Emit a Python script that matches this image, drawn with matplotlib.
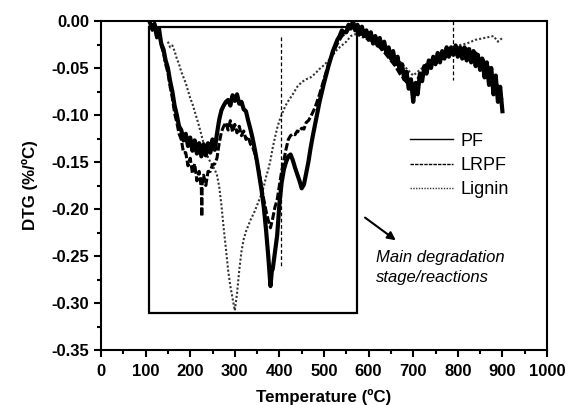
import matplotlib
matplotlib.use("Agg")
import matplotlib.pyplot as plt
from matplotlib.patches import Rectangle
from matplotlib.ticker import MultipleLocator

plt.rcParams['font.family'] = ['Liberation Sans', 'DejaVu Sans']

# ---------------- data ----------------
pf_T = [110, 115, 120, 125, 130, 135, 140, 145, 150, 155, 160, 165, 170, 175, 180, 185, 190, 195,
        200, 205, 210, 215, 220, 225, 230, 235, 240, 245, 250, 255, 260, 265, 270, 275, 280, 285,
        290, 295, 300, 305, 310, 315, 320, 325, 330, 335, 340, 345, 350, 355, 360, 365, 370, 375,
        378, 380, 383, 385, 390, 395, 400, 405, 410, 415, 420, 425, 430, 435, 440, 445, 450, 455,
        460, 465, 470, 475, 480, 485, 490, 495, 500, 505, 510, 515, 520, 525, 530, 535, 540, 545,
        550, 555, 560, 565, 570, 575, 580, 585, 590, 595, 600, 605, 610, 615, 620, 625, 630, 635,
        640, 645, 650, 655, 660, 665, 670, 675, 680, 685, 690, 695, 700, 705, 710, 715, 720, 725,
        730, 735, 740, 745, 750, 755, 760, 765, 770, 775, 780, 785, 790, 795, 800, 805, 810, 815,
        820, 825, 830, 835, 840, 845, 850, 855, 860, 865, 870, 875, 880, 885, 890, 895, 900]
pf_v = [-0.002, -0.008, -0.003, -0.016, -0.008, -0.024, -0.030, -0.042, -0.050, -0.064, -0.075,
        -0.090, -0.100, -0.112, -0.116, -0.127, -0.120, -0.133, -0.124, -0.138, -0.127, -0.141,
        -0.130, -0.144, -0.131, -0.143, -0.130, -0.140, -0.126, -0.137, -0.120, -0.105, -0.095,
        -0.090, -0.086, -0.084, -0.090, -0.079, -0.085, -0.078, -0.088, -0.086, -0.094, -0.096,
        -0.106, -0.115, -0.125, -0.137, -0.150, -0.165, -0.180, -0.198, -0.222, -0.250, -0.270,
        -0.282, -0.266, -0.264, -0.246, -0.228, -0.195, -0.172, -0.158, -0.150, -0.144, -0.142,
        -0.148, -0.156, -0.163, -0.170, -0.178, -0.174, -0.162, -0.150, -0.135, -0.122, -0.110,
        -0.098, -0.086, -0.076, -0.066, -0.057, -0.048, -0.040, -0.032, -0.026, -0.020, -0.016,
        -0.010, -0.012, -0.012, -0.004, -0.008, 0.000, -0.010, -0.004, -0.014, -0.006, -0.016,
        -0.010, -0.020, -0.012, -0.024, -0.016, -0.026, -0.018, -0.030, -0.022, -0.034, -0.028,
        -0.040, -0.032, -0.046, -0.038, -0.054, -0.046, -0.062, -0.054, -0.072, -0.062, -0.086,
        -0.066, -0.078, -0.056, -0.064, -0.048, -0.056, -0.042, -0.050, -0.038, -0.046, -0.034,
        -0.044, -0.032, -0.040, -0.028, -0.038, -0.028, -0.036, -0.026, -0.038, -0.028, -0.040,
        -0.028, -0.042, -0.030, -0.044, -0.032, -0.048, -0.036, -0.052, -0.040, -0.060, -0.044,
        -0.068, -0.050, -0.078, -0.058, -0.086, -0.070, -0.096]

lrpf_T = [110, 115, 120, 125, 130, 135, 140, 145, 150, 155, 160, 165, 170, 175, 180, 185, 190, 195,
          200, 205, 210, 215, 220, 225, 226, 227, 230, 235, 240, 245, 250, 255, 260, 265, 270, 275,
          280, 285, 290, 295, 300, 305, 310, 315, 320, 325, 330, 335, 340, 345, 350, 355, 360, 365,
          370, 375, 380, 385, 390, 395, 400, 405, 410, 415, 420, 425, 430, 435, 440, 445, 450, 455,
          460, 465, 470, 475, 480, 485, 490, 495, 500, 505, 510, 520, 530, 540, 550, 560, 570, 580,
          590, 600, 610, 620, 630, 640, 650, 660, 670, 680, 690, 700, 710, 720, 730, 740, 750, 760,
          770, 780, 790, 800, 810, 820, 830, 840, 850, 860, 870, 880, 890, 900]
lrpf_v = [-0.004, -0.010, -0.006, -0.018, -0.012, -0.026, -0.034, -0.046, -0.055, -0.070, -0.082,
          -0.098, -0.108, -0.120, -0.126, -0.140, -0.140, -0.154, -0.146, -0.162, -0.152, -0.170,
          -0.160, -0.178, -0.208, -0.170, -0.164, -0.175, -0.160, -0.160, -0.153, -0.152, -0.146,
          -0.130, -0.118, -0.112, -0.108, -0.116, -0.106, -0.118, -0.110, -0.119, -0.112, -0.122,
          -0.117, -0.126, -0.123, -0.131, -0.134, -0.141, -0.150, -0.162, -0.176, -0.190, -0.202,
          -0.212, -0.220, -0.210, -0.198, -0.190, -0.175, -0.160, -0.148, -0.136, -0.126, -0.122,
          -0.120, -0.121, -0.117, -0.118, -0.114, -0.115, -0.108, -0.106, -0.102, -0.097, -0.092,
          -0.085, -0.078, -0.070, -0.062, -0.054, -0.046, -0.034, -0.024, -0.016, -0.012, -0.006,
          -0.008, -0.012, -0.016, -0.018, -0.022, -0.026, -0.030, -0.036, -0.042, -0.048, -0.056,
          -0.062, -0.068, -0.074, -0.062, -0.054, -0.046, -0.042, -0.038, -0.036, -0.034, -0.030,
          -0.032, -0.030, -0.028, -0.030, -0.030, -0.034, -0.038, -0.044, -0.050, -0.060, -0.070,
          -0.085]

# isolated vertical glitches in the LRPF record
lrpf_spike_T = [403, 403, None, 790, 790]
lrpf_spike_v = [-0.017, -0.261, None, 0.000, -0.063]

lignin_T = [150, 155, 160, 165, 170, 175, 180, 185, 190, 195, 200, 205, 210, 215, 220, 225, 230,
            235, 240, 245, 250, 255, 260, 265, 270, 275, 280, 285, 290, 295, 300, 305, 310, 315,
            320, 325, 330, 335, 340, 345, 350, 355, 360, 365, 370, 375, 380, 385, 390, 395, 400,
            405, 410, 415, 420, 430, 440, 450, 460, 470, 480, 490, 500, 510, 520, 530, 540, 550,
            560, 570, 580, 590, 600, 620, 640, 660, 680, 700, 720, 740, 760, 780, 800, 820, 840,
            860, 880, 890, 900]
lignin_v = [-0.022, -0.028, -0.026, -0.032, -0.040, -0.046, -0.054, -0.060, -0.066, -0.074, -0.082,
            -0.088, -0.096, -0.104, -0.112, -0.121, -0.130, -0.138, -0.145, -0.150, -0.154, -0.158,
            -0.164, -0.176, -0.196, -0.220, -0.242, -0.265, -0.282, -0.295, -0.308, -0.290, -0.265,
            -0.245, -0.232, -0.224, -0.218, -0.212, -0.207, -0.202, -0.196, -0.190, -0.184, -0.176,
            -0.166, -0.158, -0.148, -0.135, -0.124, -0.114, -0.106, -0.100, -0.094, -0.089, -0.085,
            -0.078, -0.070, -0.065, -0.062, -0.060, -0.056, -0.051, -0.047, -0.042, -0.036, -0.030,
            -0.026, -0.022, -0.016, -0.014, -0.016, -0.018, -0.020, -0.024, -0.030, -0.038, -0.048,
            -0.058, -0.050, -0.042, -0.035, -0.030, -0.026, -0.024, -0.020, -0.018, -0.016, -0.022,
            -0.018]

series_labels = ["PF", "LRPF", "Lignin"]
x_ticks = [0, 100, 200, 300, 400, 500, 600, 700, 800, 900, 1000]
y_ticks = [0.00, -0.05, -0.10, -0.15, -0.20, -0.25, -0.30, -0.35]
box_T = [108, 575]
box_v = [-0.006, -0.311]

# ---------------- figure ----------------
fig = plt.figure(figsize=(5.66, 4.05), dpi=100)
ax = fig.add_axes([101 / 566, 1 - 350 / 405, 446 / 566, 329 / 405])

spike_T = [float('nan') if t is None else t for t in lrpf_spike_T]
spike_v = [float('nan') if t is None else t for t in lrpf_spike_v]

ax.plot(lignin_T, lignin_v, color='#333333', lw=1.5, ls=(0, (1, 1)), label=series_labels[2], zorder=2)
ax.plot(lrpf_T, lrpf_v, color='black', lw=2.2, ls=(0, (2.5, 0.8)), label=series_labels[1], zorder=3)
ax.plot(spike_T, spike_v, color='black', lw=0.9, ls=(0, (3, 2)), zorder=3)
ax.plot(pf_T, pf_v, color='black', lw=3.0, ls='-', label=series_labels[0], zorder=4)

ax.add_patch(Rectangle((box_T[0], box_v[1]), box_T[1] - box_T[0], box_v[0] - box_v[1],
                       fill=False, lw=1.6, ec='black', zorder=5))

ax.set_xlim(0, 1000)
ax.set_ylim(-0.35, 0.0)
ax.set_xticks(x_ticks)
ax.set_yticks(y_ticks)
ax.set_yticklabels([f"{t:.2f}" if t != 0 else "0.00" for t in y_ticks])
ax.xaxis.set_minor_locator(MultipleLocator(50))
ax.yaxis.set_minor_locator(MultipleLocator(0.025))
ax.tick_params(which='major', direction='out', length=5, width=1.5,
               labelsize=12, top=False, right=False)
ax.tick_params(which='minor', direction='out', length=3, width=1.5, top=False, right=False)
ax.tick_params(axis='x', which='major', pad=5)
ax.tick_params(axis='y', which='major', pad=3.5)
for lab in ax.get_xticklabels() + ax.get_yticklabels():
    lab.set_fontweight('bold')
for sp in ax.spines.values():
    sp.set_linewidth(1.5)

ax.set_xlabel("Temperature (ºC)", fontsize=12.2, fontweight='bold', labelpad=7)
ax.set_ylabel("DTG (%/ºC)", fontsize=12.2, fontweight='bold', labelpad=10)

h, l = ax.get_legend_handles_labels()
order = [l.index(s) for s in series_labels]
leg = ax.legend([h[i] for i in order], [l[i] for i in order], frameon=False,
                loc='upper left', bbox_to_anchor=(0.672, 0.688), fontsize=13,
                handlelength=2.4, handletextpad=0.4, labelspacing=0.4, borderpad=0)
for line in leg.get_lines():
    line.set_linewidth(1.0)

ax.annotate("", xy=(666, -0.235), xytext=(587, -0.2074),
            arrowprops=dict(arrowstyle='-|>', color='black', lw=1.5, mutation_scale=12))
ax.text(616, -0.2564, "Main degradation", fontsize=12, style='italic', va='baseline', ha='left')
ax.text(616, -0.2777, "stage/reactions", fontsize=12, style='italic', va='baseline', ha='left')

fig.savefig("out.png", dpi=100)
